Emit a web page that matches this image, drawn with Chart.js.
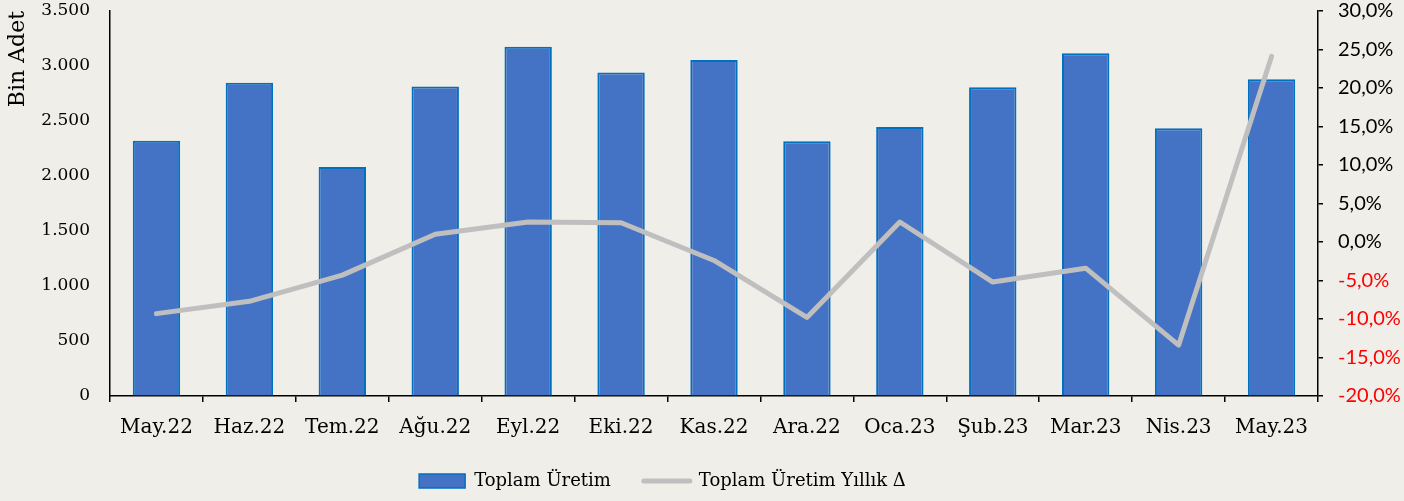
<!DOCTYPE html>
<html>
<head>
<meta charset="utf-8">
<script src="https://cdn.jsdelivr.net/npm/chart.js@4/dist/chart.umd.min.js"></script>
<style>
  html, body { margin: 0; padding: 0; background: #F0EEE8; }
  #wrap { width: 1404px; height: 501px; position: relative; }
</style>
</head>
<body>
<div id="wrap"><canvas id="c" width="1404" height="501"></canvas></div>
<script>
const categories = ['May.22','Haz.22','Tem.22','Ağu.22','Eyl.22','Eki.22','Kas.22','Ara.22','Oca.23','Şub.23','Mar.23','Nis.23','May.23'];
const totalProduction = [2320, 2848, 2081, 2813, 3175, 2942, 3054, 2317, 2445, 2806, 3115, 2433, 2879];
const yearlyChangePct = [-9.3, -7.7, -4.3, 1.0, 2.6, 2.5, -2.4, -9.8, 2.6, -5.2, -3.4, -13.4, 24.1];
const seriesNames = ['Toplam Üretim', 'Toplam Üretim Yıllık Δ'];
const leftAxisTitle = 'Bin Adet';

const BAR_FILL = '#4472C4';
const BAR_EDGE = '#0070C0';
const LINE_COLOR = '#BFBFBF';
const SERIF = "'DejaVu Serif', 'Liberation Serif', serif";
const SANS = "Lato, 'Liberation Sans', sans-serif";

function fmtThousands(v) {
  if (v >= 1000) return Math.floor(v / 1000) + '.' + String(v % 1000).padStart(3, '0');
  return String(v);
}

const legendPlace = {
  id: 'legendPlace',
  afterLayout(chart) {
    const lg = chart.legend;
    if (!lg) return;
    lg.top = 439;
    lg.bottom = 501;
    lg.left = 0;
    lg.right = 1325;
  }
};

function noVertPad(s) {
  s.paddingTop = 0;
  s.paddingBottom = 0;
}

new Chart(document.getElementById('c'), {
  type: 'bar',
  data: {
    labels: categories,
    datasets: [
      {
        type: 'bar',
        label: seriesNames[0],
        data: totalProduction,
        yAxisID: 'y',
        backgroundColor: BAR_FILL,
        borderColor: BAR_EDGE,
        borderWidth: 2,
        barPercentage: 1,
        categoryPercentage: 0.51,
        order: 1
      },
      {
        type: 'line',
        label: seriesNames[1],
        data: yearlyChangePct,
        yAxisID: 'y1',
        borderColor: LINE_COLOR,
        backgroundColor: LINE_COLOR,
        borderWidth: 5,
        pointRadius: 0,
        tension: 0,
        borderCapStyle: 'round',
        borderJoinStyle: 'round',
        order: 0
      }
    ]
  },
  options: {
    responsive: false,
    animation: false,
    layout: { padding: { top: 11, left: 0, right: 0, bottom: 0 } },
    plugins: {
      tooltip: { enabled: false },
      legend: {
        position: 'bottom',
        maxHeight: 30,
        labels: {
          usePointStyle: true,
          pointStyleWidth: 46,
          boxHeight: 14,
          padding: 33,
          color: '#000',
          font: { family: SERIF, size: 18 },
          generateLabels(chart) {
            const items = Chart.defaults.plugins.legend.labels.generateLabels(chart);
            items.forEach(it => {
              if (it.datasetIndex === 1) {
                it.pointStyle = 'line';
                it.lineWidth = 5;
                it.strokeStyle = LINE_COLOR;
                it.lineCap = 'round';
              } else {
                it.pointStyle = 'rect';
                it.lineWidth = 1.5;
                it.fillStyle = BAR_FILL;
                it.strokeStyle = BAR_EDGE;
              }
            });
            items.sort((a, b) => a.datasetIndex - b.datasetIndex);
            return items;
          }
        }
      }
    },
    scales: {
      x: {
        offset: true,
        grid: { display: true, offset: true, drawOnChartArea: false, drawTicks: true, tickLength: 6, color: '#000', lineWidth: 1.5 },
        border: { display: true, color: '#000', width: 1.5 },
        ticks: { color: '#000', font: { family: SERIF, size: 20 }, padding: 14, maxRotation: 0, autoSkip: false },
        afterFit(s) { s.height = 75; }
      },
      y: {
        position: 'left',
        min: 0,
        max: 3500,
        grid: { display: true, drawOnChartArea: false, drawTicks: false },
        border: { display: true, color: '#000', width: 1.5 },
        ticks: { stepSize: 500, color: '#000', padding: 20, font: { family: SERIF, size: 17 }, callback: v => fmtThousands(v) },
        title: { display: true, text: leftAxisTitle, align: 'end', color: '#000', font: { family: SERIF, size: 22 }, padding: { top: 5, bottom: 0 } },
        afterFit(s) { s.width = 110; noVertPad(s); }
      },
      y1: {
        position: 'right',
        min: -20,
        max: 30,
        grid: { display: true, drawOnChartArea: false, drawTicks: true, tickLength: 5, color: '#000', lineWidth: 1.5 },
        border: { display: true, color: '#000', width: 1.5 },
        ticks: {
          stepSize: 5,
          padding: 15,
          font: { family: SANS, size: 20 },
          color: ctx => (ctx.tick && ctx.tick.value < 0) ? '#FF0000' : '#000',
          callback: v => v.toFixed(1).replace('.', ',') + '%'
        },
        afterFit(s) { s.width = 86; noVertPad(s); }
      }
    }
  },
  plugins: [legendPlace]
});
</script>
</body>
</html>
